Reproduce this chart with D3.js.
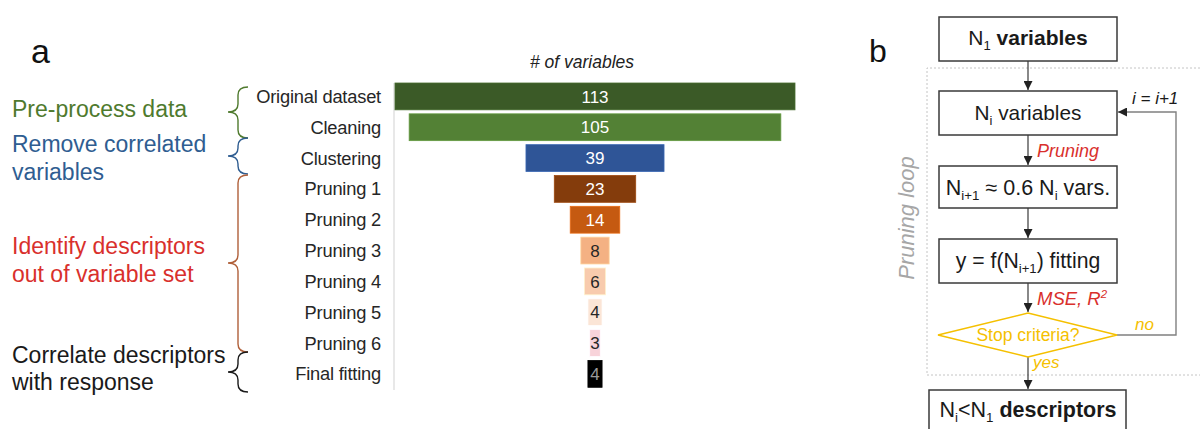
<!DOCTYPE html>
<html><head><meta charset="utf-8">
<script src="https://cdn.jsdelivr.net/npm/d3@7"></script>
<style>body{margin:0;background:#fff}svg{display:block;font-family:"Liberation Sans",Arial,sans-serif}</style>
</head><body><svg id="c" width="1200" height="429"></svg>
<script>
// ---- data ----
const categories = ["Original dataset","Cleaning","Clustering","Pruning 1","Pruning 2","Pruning 3","Pruning 4","Pruning 5","Pruning 6","Final fitting"];
const values = [113,105,39,23,14,8,6,4,3,4];
const barColors = ["#3b5a27","#538135","#2f5597","#843c0c","#c55a11","#f4b183","#f8cbad","#fbe5d6","#f8d3da","#000000"];
const axisTitle = "# of variables";
const groupLabels = [["Pre-process data"],["Remove correlated","variables"],["Identify descriptors","out of variable set"],["Correlate descriptors","with response"]];
const groupColors = ["#4f7a2e","#2f5d91","#d9302c","#1a1a1a"];
const braceColors = ["#4f7a2e","#2f5d91","#b0603a","#1a1a1a"];

const svg = d3.select("#c");
svg.append("rect").attr("width",1200).attr("height",429).attr("fill","#fff");

// ---- panel a ----
const y = d3.scaleBand().domain(categories).range([79,391.3]).paddingInner(0.13).paddingOuter(0.13);
const x = d3.scaleLinear().domain([0,113]).range([0,400]);
const cx = 595;

svg.append("text").text("a").attr("x",31).attr("y",63).attr("font-size",34).attr("fill","#111");
svg.append("text").text(axisTitle).attr("x",582).attr("y",68).attr("text-anchor","middle")
  .attr("font-size",17.5).attr("font-style","italic").attr("fill","#222");

svg.append("line").attr("x1",394).attr("x2",394).attr("y1",y.range()[0]+4).attr("y2",390)
  .attr("stroke","#d9d9d9").attr("stroke-width",1.2);

const bars = svg.append("g");
bars.selectAll("rect").data(values).join("rect")
  .attr("x",d=>cx-x(d)/2).attr("width",d=>x(d))
  .attr("y",(d,i)=>y(categories[i])).attr("height",y.bandwidth())
  .attr("fill",(d,i)=>barColors[i])
  .attr("stroke",(d,i)=>d3.color(barColors[i]).brighter(0.5)).attr("stroke-width",0.8);
bars.selectAll("text").data(values).join("text")
  .text(d=>d).attr("x",cx).attr("y",(d,i)=>y(categories[i])+y.bandwidth()/2)
  .attr("dy","0.36em").attr("text-anchor","middle").attr("font-size",17)
  .attr("fill",(d,i)=>{const l=d3.hsl(barColors[i]).l; return isNaN(l)||l<0.08?"#9a9a9a":(l>0.6?"#262626":"#ffffff");});

svg.append("g").selectAll("text").data(categories).join("text")
  .text(d=>d).attr("x",381).attr("y",d=>y(d)+y.bandwidth()/2).attr("dy","0.36em")
  .attr("text-anchor","end").attr("font-size",18.3).attr("fill","#262626").attr("letter-spacing",-0.2);

// braces
function brace(xl,xm,xr,y0,y1,ym){
  const r=8;
  return `M${xr},${y0} Q${xm},${y0} ${xm},${y0+r} L${xm},${ym-r} Q${xm},${ym} ${xl},${ym} Q${xm},${ym} ${xm},${ym+r} L${xm},${y1-r} Q${xm},${y1} ${xr},${y1}`;
}
const braceSpans = [[87,138,112],[138,174,156],[175,352,263],[352,392,372]];
svg.append("g").selectAll("path").data(braceSpans).join("path")
  .attr("d",d=>brace(228,238,248,d[0],d[1],d[2])).attr("fill","none")
  .attr("stroke",(d,i)=>braceColors[i]).attr("stroke-width",1.4);

const groupBaselines = [[117],[152,180],[254,282],[363,390]];
groupLabels.forEach((lines,i)=>{
  lines.forEach((t,j)=>{
    svg.append("text").text(t).attr("x",12).attr("y",groupBaselines[i][j])
      .attr("font-size",23).attr("fill",groupColors[i]);
  });
});

// ---- panel b ----
const dark="#3a3a3a", yellow="#f5c000", red="#d9302c";
svg.append("text").text("b").attr("x",869).attr("y",62).attr("font-size",32).attr("fill","#111");

const defs = svg.append("defs");
defs.append("marker").attr("id","ah").attr("viewBox","0 0 10 10").attr("refX",10).attr("refY",5)
  .attr("markerWidth",9).attr("markerHeight",9).attr("markerUnits","userSpaceOnUse").attr("orient","auto")
  .append("path").attr("d","M0,0 L10,5 L0,10 Z").attr("fill","#222");

// dotted loop region
const dot = svg.append("g").attr("stroke","#c4c4c4").attr("stroke-width",1).attr("stroke-dasharray","2,2").attr("fill","none");
dot.append("path").attr("d","M1200,68 L927,68 L927,375 L1200,375");

svg.append("text").text("Pruning loop").attr("transform","translate(914,218) rotate(-90)")
  .attr("text-anchor","middle").attr("font-size",22).attr("font-style","italic").attr("fill","#a6a6a6");

const bx = 1028;
function box(x0,x1,y0,y1){
  svg.append("rect").attr("x",x0).attr("y",y0).attr("width",x1-x0).attr("height",y1-y0)
    .attr("fill","#fff").attr("stroke",dark).attr("stroke-width",1.5);
}
box(939,1117,17,61);
box(939,1117,91,135);
box(939,1117,166,208);
box(939,1117,239,283);
box(929,1126,390,440);

function arrow(x1,y1,x2,y2){
  svg.append("line").attr("x1",x1).attr("y1",y1).attr("x2",x2).attr("y2",y2)
    .attr("stroke",dark).attr("stroke-width",1.2).attr("marker-end","url(#ah)");
}
arrow(bx,61,bx,90);
arrow(bx,135,bx,165);
arrow(bx,208,bx,238);
arrow(bx,283,bx,312);
arrow(bx,357,bx,389);
// loop back
svg.append("path").attr("d","M1117,335 L1176,335 L1176,112 L1118,112").attr("fill","none")
  .attr("stroke","#808080").attr("stroke-width",1.4).attr("marker-end","url(#ah)");

// diamond
svg.append("path").attr("d",`M938,335 L${bx},313 L1117,335 L${bx},357 Z`).attr("fill","#fff")
  .attr("stroke",yellow).attr("stroke-width",1.5);

function richText(xc,yb,size,parts,anchor="middle"){
  const t = svg.append("text").attr("x",xc).attr("y",yb).attr("text-anchor",anchor).attr("font-size",size).attr("fill","#1a1a1a");
  let shift=0;
  parts.forEach(p=>{
    const s = t.append("tspan").text(p.t);
    if(p.sub){ s.attr("font-size",size*0.62).attr("dy",5-shift); shift=5; }
    else if(p.sup){ s.attr("font-size",size*0.62).attr("dy",-7-shift); shift=-7; }
    else { s.attr("dy",-shift); shift=0; }
    if(p.b) s.attr("font-weight","bold");
  });
  return t;
}
richText(bx,45,21,[{t:"N"},{t:"1",sub:1},{t:" variables",b:1}]);
richText(bx,120,20.8,[{t:"N"},{t:"i",sub:1},{t:" variables"}]);
richText(bx,195,21.5,[{t:"N"},{t:"i+1",sub:1},{t:" ≈ 0.6 N"},{t:"i",sub:1},{t:" vars."}]);
richText(bx,268,21.2,[{t:"y = f(N"},{t:"i+1",sub:1},{t:") fitting"}]);
richText(1028,417,21.5,[{t:"N"},{t:"i",sub:1},{t:"<N"},{t:"1",sub:1},{t:" descriptors",b:1}]);

svg.append("text").text("Stop criteria?").attr("x",bx).attr("y",341).attr("text-anchor","middle")
  .attr("font-size",17.5).attr("fill",yellow);
svg.append("text").text("Pruning").attr("x",1037).attr("y",157).attr("font-size",18)
  .attr("font-style","italic").attr("fill",red);
const mse = richText(1037,305,18.5,[{t:"MSE, R"},{t:"2",sup:1}],"start");
mse.attr("fill",red).attr("font-style","italic");
svg.append("text").text("i = i+1").attr("x",1132).attr("y",104).attr("font-size",17)
  .attr("font-style","italic").attr("fill","#1a1a1a");
svg.append("text").text("no").attr("x",1135).attr("y",330).attr("font-size",17)
  .attr("font-style","italic").attr("fill",yellow);
svg.append("text").text("yes").attr("x",1033).attr("y",368).attr("font-size",17)
  .attr("font-style","italic").attr("fill",yellow);
</script></body></html>
